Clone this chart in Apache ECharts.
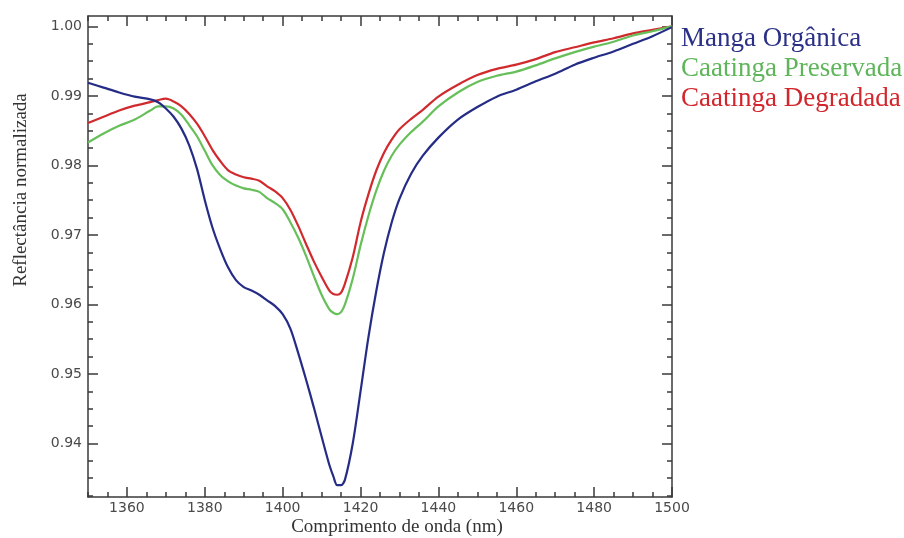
<!DOCTYPE html>
<html><head><meta charset="utf-8">
<script src="https://cdn.jsdelivr.net/npm/echarts@6/dist/echarts.min.js"></script>
<style>html,body{margin:0;padding:0;background:#fff}#c{width:904px;height:538px}</style>
</head><body><div id="c"></div>
<script>
const wavelengths = [1350,1354,1358,1362,1366,1368,1370,1372,1374,1376,1378,1380,1382,1384,1386,1388,1390,1392,1394,1396,1398,1400,1402,1404,1406,1408,1410,1412,1413,1414,1415,1416,1418,1420,1422,1424,1426,1428,1430,1433,1436,1440,1445,1450,1455,1460,1465,1470,1475,1480,1485,1490,1495,1500];
const mangaOrganica = [0.9919,0.9912,0.9905,0.9899,0.9895,0.9891,0.9882,0.9870,0.9853,0.9829,0.9795,0.9750,0.9710,0.9679,0.9653,0.9635,0.9625,0.9620,0.9614,0.9606,0.9598,0.9586,0.9565,0.9530,0.9492,0.9452,0.9410,0.9369,0.9353,0.9340,0.9340,0.9348,0.9400,0.9475,0.9552,0.9618,0.9674,0.9718,0.9752,0.9788,0.9814,0.9840,0.9866,0.9884,0.9899,0.9909,0.9921,0.9932,0.9945,0.9955,0.9964,0.9975,0.9986,0.9999];
const caatingaPreservada = [0.9833,0.9846,0.9857,0.9866,0.9879,0.9885,0.9885,0.9882,0.9873,0.9858,0.9842,0.9821,0.9800,0.9786,0.9777,0.9771,0.9767,0.9765,0.9762,0.9753,0.9746,0.9737,0.9718,0.9696,0.9670,0.9641,0.9614,0.9593,0.9588,0.9586,0.9589,0.9600,0.9637,0.9685,0.9727,0.9763,0.9792,0.9814,0.9830,0.9848,0.9863,0.9885,0.9905,0.9920,0.9929,0.9935,0.9944,0.9954,0.9963,0.9971,0.9978,0.9987,0.9993,1.0000];
const caatingaDegradada = [0.9861,0.9870,0.9879,0.9886,0.9891,0.9894,0.9896,0.9892,0.9885,0.9874,0.9860,0.9842,0.9822,0.9806,0.9793,0.9787,0.9783,0.9781,0.9778,0.9770,0.9763,0.9753,0.9736,0.9713,0.9687,0.9662,0.9640,0.9620,0.9615,0.9614,0.9617,0.9630,0.9668,0.9718,0.9758,0.9792,0.9818,0.9837,0.9852,0.9867,0.9880,0.9899,0.9916,0.9930,0.9939,0.9945,0.9953,0.9963,0.9970,0.9977,0.9983,0.9990,0.9995,1.0000];
const xTickLabels = ['1360','1380','1400','1420','1440','1460','1480','1500'];
const yTickLabels = ['0.94','0.95','0.96','0.97','0.98','0.99','1.00'];
const seriesNames = ['Manga Orgânica','Caatinga Preservada','Caatinga Degradada'];
const seriesColors = ['#252c86','#66bf59','#d02a2e'];
const legendColors = ['#2b3087','#5fb55a','#d2262c'];

const xMin = 1350, xMax = 1500, yMin = 0.9323, yMax = 1.0015;
const xMajor = xTickLabels.map(Number);
const yMajor = yTickLabels.map(Number);
const xMinor = [], yMinor = [];
for (let v = 1350; v <= 1500; v += 5) if (v % 20 !== 0) xMinor.push(v);
for (let i = 373; i <= 400; i++) { const v = +(i * 0.0025).toFixed(4); if (i % 4 !== 0) yMinor.push(v); }

const axisColor = '#3a3a3a';
const lineStyle = { color: axisColor, width: 1.5 };
const labelStyle = { color: '#4a4a4a', fontFamily: 'DejaVu Sans', fontSize: 14 };
function xAx(pos, values, len, showLine, showLabel) {
  return { type: 'value', min: xMin, max: xMax, position: pos,
    axisLine: { show: showLine, onZero: false, lineStyle },
    axisTick: { show: true, inside: true, length: len, customValues: values, lineStyle },
    axisLabel: Object.assign({ show: showLabel, customValues: values, margin: 4, formatter: v => String(v) }, labelStyle),
    splitLine: { show: false } };
}
function yAx(pos, values, len, showLine, showLabel) {
  return { type: 'value', min: yMin, max: yMax, position: pos,
    axisLine: { show: showLine, onZero: false, lineStyle },
    axisTick: { show: true, inside: true, length: len, customValues: values, lineStyle },
    axisLabel: Object.assign({ show: showLabel, customValues: values, margin: 6, formatter: v => v.toFixed(2) }, labelStyle),
    splitLine: { show: false } };
}
const seriesData = [mangaOrganica, caatingaPreservada, caatingaDegradada];
const chart = echarts.init(document.getElementById('c'), null, { renderer: 'canvas' });
chart.setOption({
  animation: false,
  backgroundColor: '#fff',
  grid: { left: 88, right: 232, top: 16, bottom: 41 },
  xAxis: [
    xAx('bottom', xMajor, 10, true, true),
    xAx('bottom', xMinor, 5, false, false),
    xAx('top', xMajor, 10, true, false),
    xAx('top', xMinor, 5, false, false)
  ],
  yAxis: [
    yAx('left', yMajor, 10, true, true),
    yAx('left', yMinor, 5, false, false),
    yAx('right', yMajor, 10, true, false),
    yAx('right', yMinor, 5, false, false)
  ],
  legend: {
    orient: 'vertical', left: 671, top: 20, itemWidth: 0, itemHeight: 0, itemGap: 2,
    selectedMode: false,
    data: seriesNames.map((n, i) => ({ name: n, icon: 'rect', textStyle: { color: legendColors[i] } })),
    textStyle: { fontFamily: 'Liberation Serif', fontSize: 27, lineHeight: 28 }
  },
  graphic: [
    { type: 'text', x: 397, y: 527, style: { text: 'Comprimento de onda (nm)', font: '19px "Liberation Serif"', fill: '#333', textAlign: 'center', textVerticalAlign: 'middle' } },
    { type: 'text', x: 21, y: 190, rotation: Math.PI / 2, style: { text: 'Reflectância normalizada', font: '19px "Liberation Serif"', fill: '#333', textAlign: 'center', textVerticalAlign: 'middle' } }
  ],
  series: seriesNames.map((n, i) => ({
    name: n, type: 'line', xAxisIndex: 0, yAxisIndex: 0, showSymbol: false, smooth: 0.3,
    lineStyle: { color: seriesColors[i], width: 2.2 }, itemStyle: { color: seriesColors[i] },
    data: wavelengths.map((w, k) => [w, seriesData[i][k]]),
    z: 3 - i
  }))
});
</script></body></html>
